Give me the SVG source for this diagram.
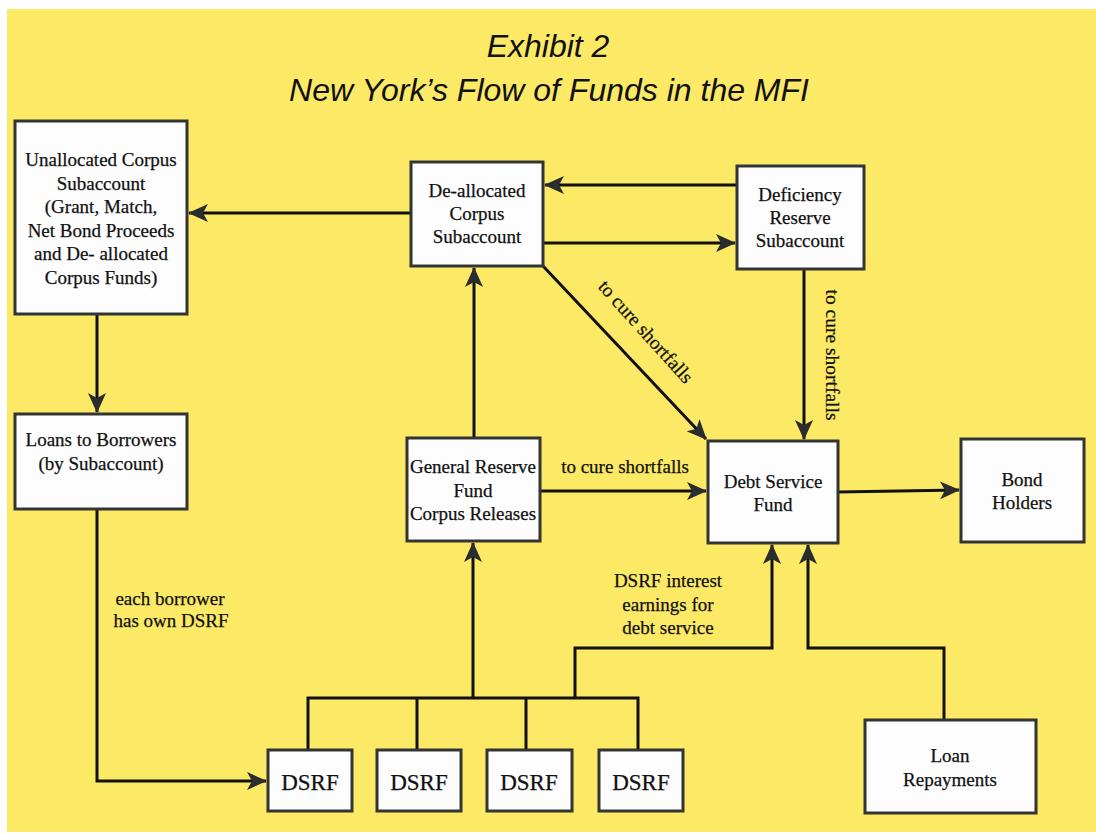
<svg xmlns="http://www.w3.org/2000/svg" width="1096" height="833" viewBox="0 0 1096 833">
<style>
.box{fill:#fdfdfd;stroke:#333535;stroke-width:3}
.t{font-family:"Liberation Serif","Times New Roman",serif;font-size:19px;fill:#111;text-anchor:middle;stroke:#111;stroke-width:0.25}
.big{font-size:23px}
.title{font-family:"Liberation Sans",Arial,sans-serif;font-style:italic;font-size:32px;fill:#111;text-anchor:middle}
.c{fill:none;stroke:#111;stroke-width:3}
</style>
<defs>
<marker id="ah" markerUnits="userSpaceOnUse" viewBox="0 0 20 18" markerWidth="20" markerHeight="18" refX="19" refY="9" orient="auto">
<path d="M0,0 L20,9 L0,18 L5,9 z" fill="#2a2d2e"/>
</marker>
</defs>
<rect x="0" y="0" width="1096" height="833" fill="#ffffff"/>
<rect x="7" y="9" width="1089" height="823" fill="#fce965"/>
<g id="title">
<text class="title" x="548" y="57">Exhibit 2</text>
<text class="title" x="549" y="101">New York’s Flow of Funds in the MFI</text>
</g>
<g id="connectors">
<line class="c" x1="411" y1="213" x2="189" y2="213" marker-end="url(#ah)"/>
<line class="c" x1="737" y1="185" x2="545" y2="185" marker-end="url(#ah)"/>
<line class="c" x1="543" y1="243" x2="735" y2="243" marker-end="url(#ah)"/>
<line class="c" x1="97" y1="314" x2="97" y2="412" marker-end="url(#ah)"/>
<polyline class="c" points="97,509 97,781 266,781" marker-end="url(#ah)"/>
<line class="c" x1="474" y1="438" x2="474" y2="268" marker-end="url(#ah)"/>
<line class="c" x1="543" y1="266" x2="706" y2="439" marker-end="url(#ah)"/>
<line class="c" x1="804" y1="269" x2="804" y2="439" marker-end="url(#ah)"/>
<line class="c" x1="540" y1="491" x2="706" y2="491" marker-end="url(#ah)"/>
<line class="c" x1="838" y1="492" x2="959" y2="490" marker-end="url(#ah)"/>
<polyline class="c" points="308,750 308,698 638,698 638,750"/>
<line class="c" x1="417" y1="698" x2="417" y2="750"/>
<line class="c" x1="526" y1="698" x2="526" y2="750"/>
<line class="c" x1="473" y1="698" x2="473" y2="543" marker-end="url(#ah)"/>
<polyline class="c" points="575,698 575,648 772,648 772,545" marker-end="url(#ah)"/>
<polyline class="c" points="944,720 944,648 808,648 808,545" marker-end="url(#ah)"/>
</g>
<g id="labels">
<text class="t" transform="translate(641,336) rotate(48)" style="font-size:19.5px">to cure shortfalls</text>
<text class="t" transform="translate(826,355) rotate(90)" style="font-size:19.5px">to cure shortfalls</text>
<text class="t" x="625" y="473">to cure shortfalls</text>
<text class="t" x="668" y="587">DSRF interest</text>
<text class="t" x="668" y="611">earnings for</text>
<text class="t" x="668" y="634">debt service</text>
<text class="t" x="170" y="605">each borrower</text>
<text class="t" x="171" y="627">has own DSRF</text>
</g>
<g id="unallocated">
<rect class="box" x="15" y="121" width="172" height="193"/>
<text class="t" x="101" y="166">Unallocated Corpus</text>
<text class="t" x="101" y="189.5">Subaccount</text>
<text class="t" x="101" y="213">(Grant, Match,</text>
<text class="t" x="101" y="236.5">Net Bond Proceeds</text>
<text class="t" x="101" y="260">and De- allocated</text>
<text class="t" x="101" y="283.5">Corpus Funds)</text>
</g>
<g id="loans">
<rect class="box" x="15" y="414" width="172" height="95"/>
<text class="t" x="101" y="446">Loans to Borrowers</text>
<text class="t" x="101" y="470">(by Subaccount)</text>
</g>
<g id="deallocated">
<rect class="box" x="411" y="162" width="132" height="104"/>
<text class="t" x="477" y="197">De-allocated</text>
<text class="t" x="477" y="220">Corpus</text>
<text class="t" x="477" y="243">Subaccount</text>
</g>
<g id="deficiency">
<rect class="box" x="737" y="166" width="127" height="103"/>
<text class="t" x="800" y="201">Deficiency</text>
<text class="t" x="800" y="224">Reserve</text>
<text class="t" x="800" y="247">Subaccount</text>
</g>
<g id="general">
<rect class="box" x="407" y="438" width="133" height="103"/>
<text class="t" x="473" y="473">General Reserve</text>
<text class="t" x="473" y="497">Fund</text>
<text class="t" x="473" y="520">Corpus Releases</text>
</g>
<g id="debtservice">
<rect class="box" x="708" y="441" width="130" height="102"/>
<text class="t" x="773" y="488">Debt Service</text>
<text class="t" x="773" y="511">Fund</text>
</g>
<g id="bondholders">
<rect class="box" x="961" y="439" width="123" height="103"/>
<text class="t" x="1022" y="486">Bond</text>
<text class="t" x="1022" y="509">Holders</text>
</g>
<g id="loanrepayments">
<rect class="box" x="865" y="720" width="171" height="93"/>
<text class="t" x="950" y="762">Loan</text>
<text class="t" x="950" y="786">Repayments</text>
</g>
<g id="dsrf1"><rect class="box" x="268" y="750" width="84" height="61"/><text class="t big" x="310" y="790">DSRF</text></g>
<g id="dsrf2"><rect class="box" x="377" y="750" width="84" height="61"/><text class="t big" x="419" y="790">DSRF</text></g>
<g id="dsrf3"><rect class="box" x="487" y="750" width="85" height="61"/><text class="t big" x="529" y="790">DSRF</text></g>
<g id="dsrf4"><rect class="box" x="599" y="750" width="84" height="61"/><text class="t big" x="641" y="790">DSRF</text></g>
</svg>
